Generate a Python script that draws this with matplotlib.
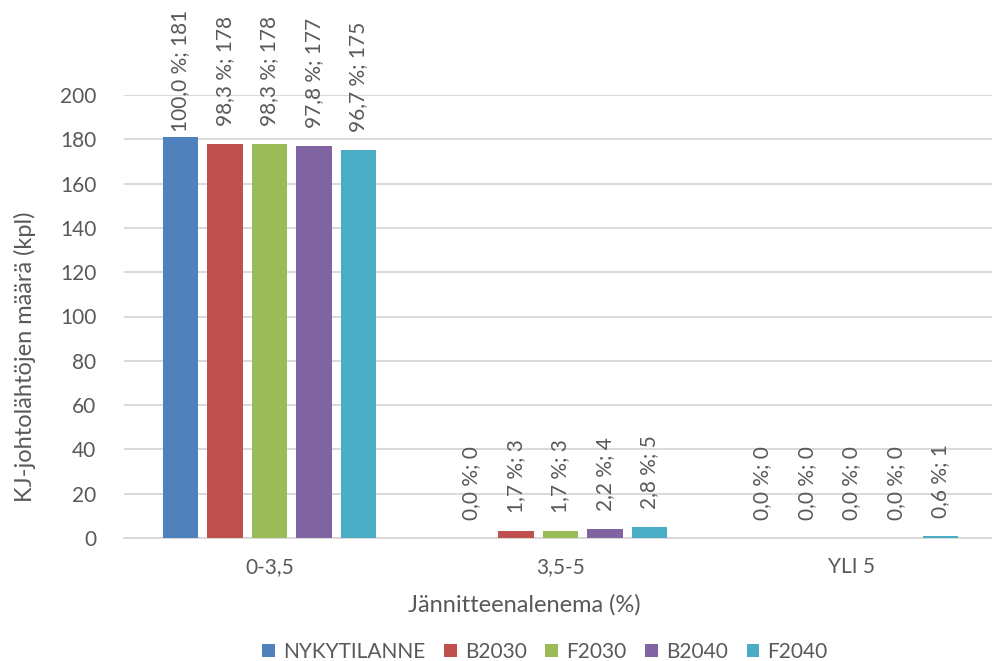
import matplotlib
matplotlib.use("Agg")
import matplotlib.pyplot as plt
import numpy as np

plt.rcParams['font.family'] = ['Lato', 'DejaVu Sans']

categories = ["0-3,5", "3,5-5", "YLI 5"]
series_names = ["NYKYTILANNE", "B2030", "F2030", "B2040", "F2040"]
counts = [
    [181, 0, 0],
    [178, 3, 0],
    [178, 3, 0],
    [177, 4, 0],
    [175, 5, 1],
]
shares = [
    ["100,0", "0,0", "0,0"],
    ["98,3", "1,7", "0,0"],
    ["98,3", "1,7", "0,0"],
    ["97,8", "2,2", "0,0"],
    ["96,7", "2,8", "0,6"],
]
y_ticks = [0, 20, 40, 60, 80, 100, 120, 140, 160, 180, 200]

colors = ["#4F81BD", "#C0504D", "#9BBB59", "#8064A2", "#4BACC6"]
text_color = "#595959"
grid_color = "#D9D9D9"

W, H = 992, 661
fig = plt.figure(figsize=(W / 100, H / 100), dpi=100)
ax = fig.add_axes([124 / W, (H - 538) / H, (W - 124) / W, (538 - 95) / H])

x = np.arange(len(categories))
bar_w = 0.122
step = 0.153
fs = 15
label_off = 13

labels = []
for i, name in enumerate(series_names):
    pos = x + (i - 2) * step
    ax.bar(pos, counts[i], width=bar_w, color=colors[i], label=name, zorder=3)
    for j in range(len(categories)):
        t = ax.annotate(f"{shares[i][j]} %; {counts[i][j]}",
                        xy=(pos[j], counts[i][j]), xytext=(0, label_off),
                        textcoords="offset points", rotation=90,
                        ha="center", va="bottom", fontsize=fs,
                        color=text_color, annotation_clip=False)
        labels.append(t)

ax.set_xlim(-0.5, -0.5 + (W - 124) / 291)
ax.set_ylim(0, 200)
ax.set_yticks(y_ticks)
ax.set_xticks(x)
ax.set_xticklabels(categories)
ax.tick_params(axis="both", length=0, labelsize=fs, labelcolor=text_color)
ax.tick_params(axis="y", pad=20)
ax.tick_params(axis="x", pad=14)
ax.yaxis.grid(True, color=grid_color, linewidth=1.4, zorder=0)
for s in ["top", "right", "left"]:
    ax.spines[s].set_visible(False)
ax.spines["bottom"].set_color(grid_color)
ax.spines["bottom"].set_linewidth(1.4)

fig.text(25 / W, (H - 357) / H, "KJ-johtolähtöjen määrä (kpl)", rotation=90,
         ha="center", va="center", fontsize=17, color=text_color)
fig.text(524 / W, (H - 605) / H, "Jännitteenalenema (%)", ha="center",
         va="center", fontsize=17, color=text_color)

leg = fig.legend(loc="center", bbox_to_anchor=(545 / W, (H - 652) / H),
                 ncol=5, frameon=False, fontsize=fs, handlelength=0.6,
                 handleheight=0.6, handletextpad=0.4, columnspacing=0.9)
for txt in leg.get_texts():
    txt.set_color(text_color)

# keep value labels inside the figure's top margin
fig.canvas.draw()
r = fig.canvas.get_renderer()
limit = H - 10
for t in labels:
    bb = t.get_window_extent(r)
    if bb.y1 > limit:
        shift_pt = (bb.y1 - limit) * 72 / fig.dpi
        t.xyann = (0, label_off - shift_pt)

fig.savefig("out.png", dpi=100)
